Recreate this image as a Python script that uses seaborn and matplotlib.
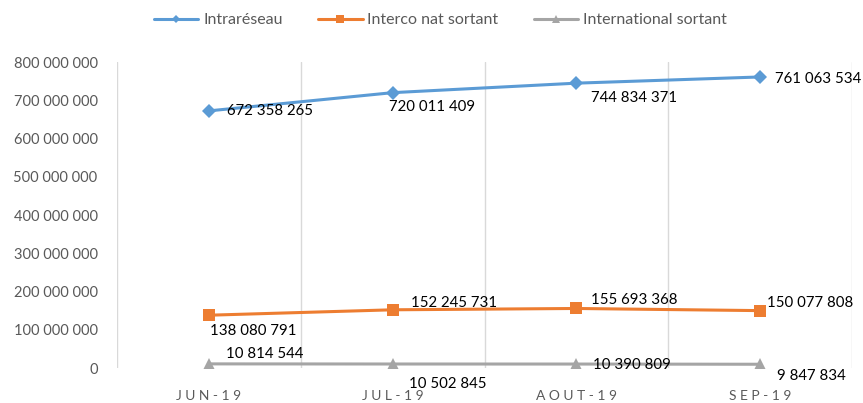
import matplotlib
matplotlib.use("Agg")
import matplotlib.pyplot as plt
import seaborn as sns
import pandas as pd
from matplotlib.ticker import FuncFormatter, MultipleLocator

mois = ["JUN-19", "JUL-19", "AOUT-19", "SEP-19"]
series = ["Intraréseau", "Interco nat sortant", "International sortant"]
intrareseau = [672358265, 720011409, 744834371, 761063534]
interco = [138080791, 152245731, 155693368, 150077808]
international = [10814544, 10502845, 10390809, 9847834]

couleurs = {"Intraréseau": "#5B9BD5", "Interco nat sortant": "#ED7D31",
            "International sortant": "#A5A5A5"}
marqueurs = {"Intraréseau": "D", "Interco nat sortant": "s",
             "International sortant": "^"}
tailles = {"Intraréseau": 7, "Interco nat sortant": 9, "International sortant": 9}

# label offsets in pixels (dx, dy)
decalages = {
    "Intraréseau": [(18, 0), (-4, -14), (15, -15), (15, -2)],
    "Interco nat sortant": [(1, -16), (18, 7), (15, 8), (7, 8)],
    "International sortant": [(17, 10), (16, -20), (17, -1), (17, -12)],
}

df = pd.DataFrame({
    "mois": mois * 3,
    "serie": [s for s in series for _ in mois],
    "valeur": intrareseau + interco + international,
})

sns.set_style("white")
plt.rcParams["font.family"] = ["Lato", "DejaVu Sans"]

fig = plt.figure(figsize=(8.63, 4.03), dpi=100)
ax = fig.add_axes([0.1356, 0.0868, 0.8517, 0.7592])

for s in series:
    d = df[df["serie"] == s]
    pos = [mois.index(m) for m in d["mois"]]
    sns.lineplot(x=pos, y=d["valeur"].values, ax=ax, color=couleurs[s],
                 marker=marqueurs[s], markersize=tailles[s], markeredgewidth=0,
                 linewidth=2.2, label=s)
    for i, v in enumerate(d["valeur"].values):
        dx, dy = decalages[s][i]
        txt = f"{v:,}".replace(",", " ")
        ax.annotate(txt, (pos[i], v), xytext=(dx, dy), textcoords="offset pixels",
                    ha="left", va="center", fontsize=10.8, color="black")

ax.set_xlim(-0.5, 3.5)
ax.set_ylim(0, 800000000)
ax.yaxis.set_major_locator(MultipleLocator(100000000))
ax.yaxis.set_major_formatter(FuncFormatter(lambda v, p: f"{int(v):,}".replace(",", " ")))
ax.set_xticks(range(4))
ax.set_xticklabels([" ".join(m) for m in mois], color="#595959", fontsize=10)
ax.set_xticks([-0.5, 0.5, 1.5, 2.5, 3.5], minor=True)
ax.grid(True, which="minor", axis="x", color="#D9D9D9", linewidth=1)
ax.grid(False, which="major")
ax.tick_params(axis="y", colors="#595959", labelsize=10.5, length=0, pad=14)
ax.tick_params(axis="x", which="both", length=0, pad=16)
for sp in ax.spines.values():
    sp.set_visible(False)
ax.set_xlabel("")
ax.set_ylabel("")

ax.legend(loc="center", bbox_to_anchor=(0.44, 1.137), ncol=3, frameon=False,
          fontsize=11.5, labelcolor="#595959", handlelength=2.8, columnspacing=2.2,
          handletextpad=0.3, markerscale=0.65)

fig.savefig("out.png", dpi=100)
